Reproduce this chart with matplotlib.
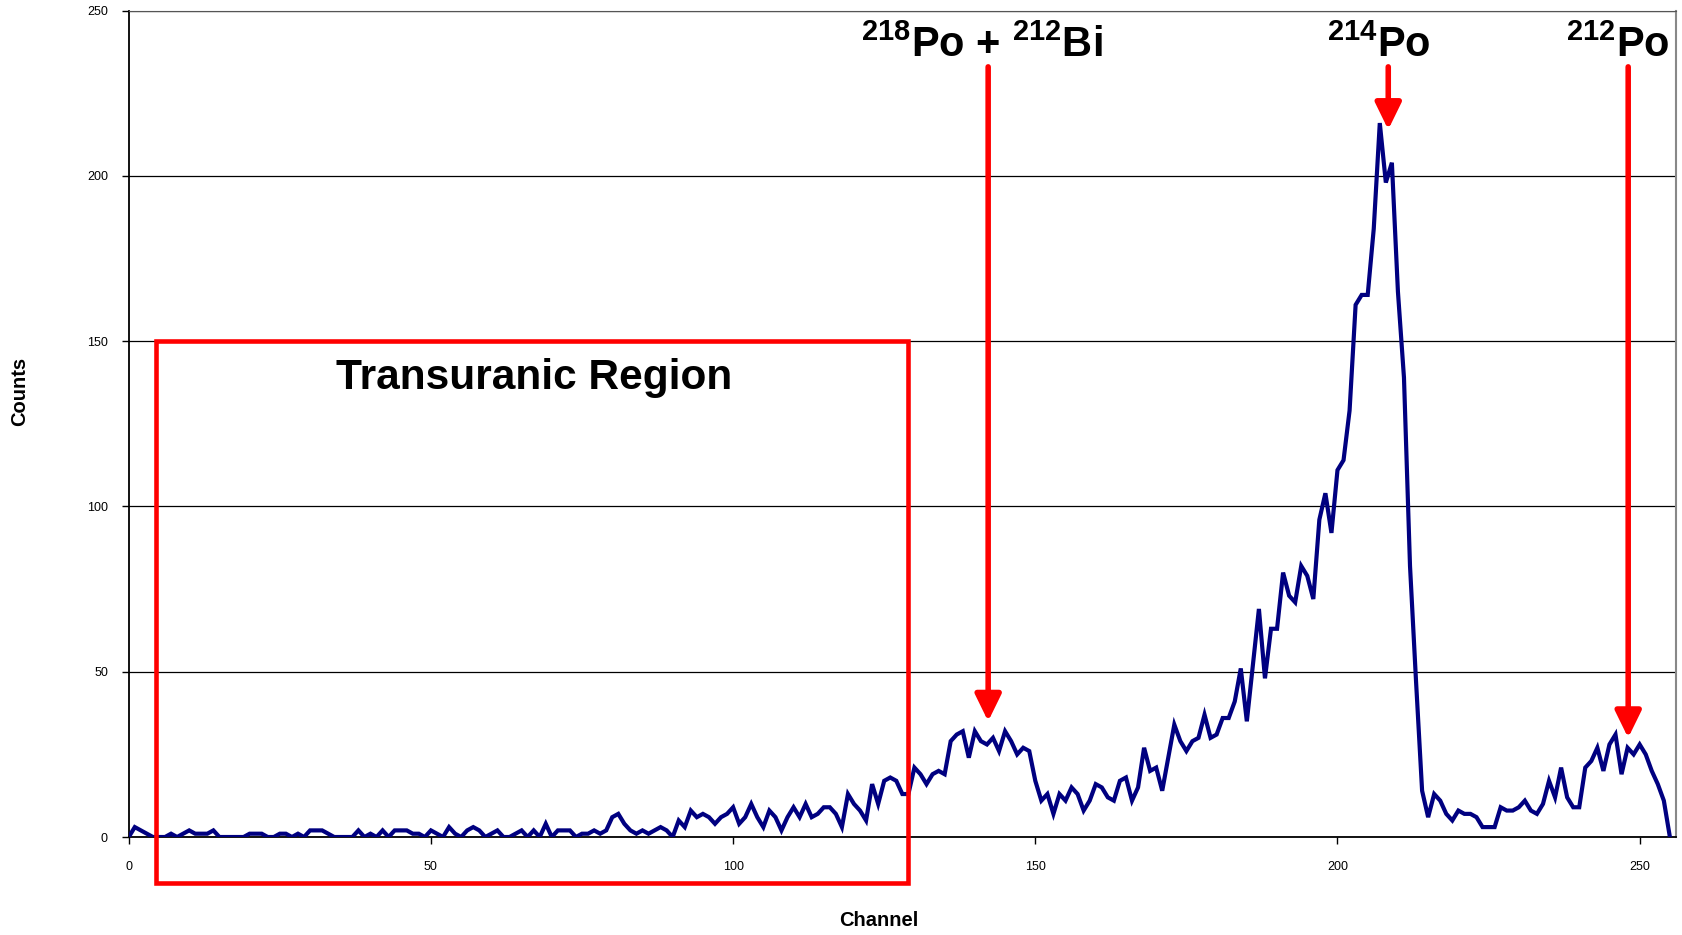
import numpy as np
import matplotlib
matplotlib.use('Agg')
import matplotlib.pyplot as plt
from matplotlib.patches import Rectangle

plt.rcParams['font.family'] = ['Liberation Sans', 'DejaVu Sans']
plt.rcParams['mathtext.fontset'] = 'custom'
plt.rcParams['mathtext.rm'] = 'Liberation Sans:bold'
plt.rcParams['mathtext.bf'] = 'Liberation Sans:bold'
plt.rcParams['mathtext.default'] = 'rm'

# 每道计数 (channel 0-255)
counts = [
    0, 3, 2, 1, 0, 0, 0, 1, 0, 1,
    2, 1, 1, 1, 2, 0, 0, 0, 0, 0,
    1, 1, 1, 0, 0, 1, 1, 0, 1, 0,
    2, 2, 2, 1, 0, 0, 0, 0, 2, 0,
    1, 0, 2, 0, 2, 2, 2, 1, 1, 0,
    2, 1, 0, 3, 1, 0, 2, 3, 2, 0,
    1, 2, 0, 0, 1, 2, 0, 2, 0, 4,
    0, 2, 2, 2, 0, 1, 1, 2, 1, 2,
    6, 7, 4, 2, 1, 2, 1, 2, 3, 2,
    0, 5, 3, 8, 6, 7, 6, 4, 6, 7,
    9, 4, 6, 10, 6, 3, 8, 6, 2, 6,
    9, 6, 10, 6, 7, 9, 9, 7, 3, 13,
    10, 8, 5, 16, 10, 17, 18, 17, 13, 13,
    21, 19, 16, 19, 20, 19, 29, 31, 32, 24,
    32, 29, 28, 30, 26, 32, 29, 25, 27, 26,
    17, 11, 13, 7, 13, 11, 15, 13, 8, 11,
    16, 15, 12, 11, 17, 18, 11, 15, 27, 20,
    21, 14, 24, 34, 29, 26, 29, 30, 37, 30,
    31, 36, 36, 41, 51, 35, 52, 69, 48, 63,
    63, 80, 73, 71, 82, 79, 72, 96, 104, 92,
    111, 114, 129, 161, 164, 164, 184, 216, 198, 204,
    165, 139, 82, 47, 14, 6, 13, 11, 7, 5,
    8, 7, 7, 6, 3, 3, 3, 9, 8, 8,
    9, 11, 8, 7, 10, 17, 12, 21, 12, 9,
    9, 21, 23, 27, 20, 28, 31, 19, 27, 25,
    28, 25, 20, 16, 11, 0,
]
channels = np.arange(len(counts))

# 峰的标注
peak_labels = [r'$^{218}$Po + $^{212}$Bi', r'$^{214}$Po', r'$^{212}$Po']
peak_label_x = [141.2, 206.8, 246.4]
arrow_x = [142.2, 208.4, 248.1]
arrow_tip = [35, 214, 30]
arrow_top = 233

# 超铀区
region_x = (4.5, 129)
region_y = (-14, 150)

fig = plt.figure(figsize=(16.83, 9.35), dpi=100)
ax = fig.add_axes([0.0765, 0.1048, 0.9193, 0.8838])

ax.plot(channels, counts, color='#000080', lw=3, solid_joinstyle='miter', zorder=3)

ax.set_xlim(0, 256)
ax.set_ylim(0, 250)
ax.set_xticks(np.arange(0, 251, 50))
ax.set_yticks(np.arange(0, 251, 50))
ax.tick_params(labelsize=9, direction='out', length=5, width=1, pad=10)
ax.tick_params(axis='x', pad=12)
ax.yaxis.grid(True, color='black', lw=0.9)
ax.set_axisbelow(True)

for s in ['left', 'bottom']:
    ax.spines[s].set_color('black')
    ax.spines[s].set_linewidth(1.3)
ax.spines['top'].set_color('#555555')
ax.spines['right'].set_color('#888888')
ax.spines['right'].set_linewidth(1.5)

ax.set_xlabel('Channel', fontsize=14.5, fontweight='bold', va='center')
ax.set_ylabel('Counts', fontsize=14.5, fontweight='bold', va='center')
ax.xaxis.set_label_coords(0.4845, -0.1005)
ax.yaxis.set_label_coords(-0.0703, 0.539)

rect = Rectangle((region_x[0], region_y[0]), region_x[1] - region_x[0], region_y[1] - region_y[0],
                 fill=False, ec='#ff0000', lw=3.3, clip_on=False, zorder=4)
ax.add_patch(rect)
ax.text(67, 139, 'Transuranic Region', fontsize=30.5, fontweight='bold',
        ha='center', va='center', zorder=5)

for lbl, lx in zip(peak_labels, peak_label_x):
    ax.text(lx, 236, lbl, fontsize=30, fontweight='bold', ha='center', va='baseline', zorder=5)

for xa, tip in zip(arrow_x, arrow_tip):
    ax.annotate('', xy=(xa, tip), xytext=(xa, arrow_top),
                arrowprops=dict(arrowstyle='-|>,head_length=0.45,head_width=0.22',
                                color='#ff0000', lw=4, mutation_scale=36,
                                shrinkA=0, shrinkB=0),
                zorder=5)

fig.savefig('out.png', dpi=100)
